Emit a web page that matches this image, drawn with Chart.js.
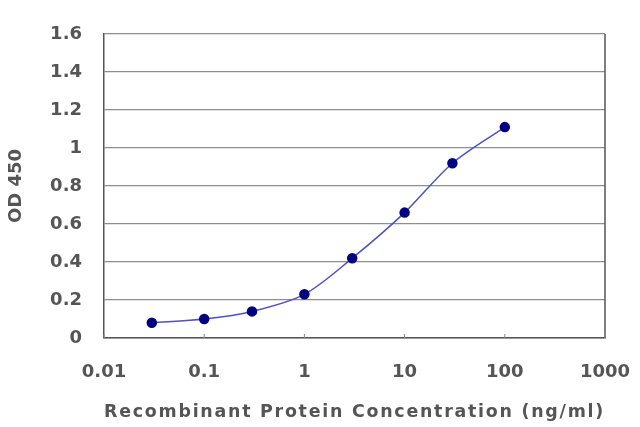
<!DOCTYPE html>
<html>
<head>
<meta charset="utf-8">
<script src="https://cdn.jsdelivr.net/npm/chart.js@4"></script>
<style>
html,body{margin:0;padding:0;background:#fff;}
#wrap{width:640px;height:427px;}
</style>
</head>
<body>
<div id="wrap"><canvas id="c" width="640" height="427"></canvas></div>
<script>
const concentrations = [0.03, 0.1, 0.3, 1, 3, 10, 30, 100];
const odValues = [0.08, 0.10, 0.14, 0.23, 0.42, 0.66, 0.92, 1.11];
const xTicks = [0.01, 0.1, 1, 10, 100, 1000];
const xTickLabels = ["0.01", "0.1", "1", "10", "100", "1000"];
const yTicks = [0, 0.2, 0.4, 0.6, 0.8, 1, 1.2, 1.4, 1.6];
const yTickLabels = ["0", "0.2", "0.4", "0.6", "0.8", "1", "1.2", "1.4", "1.6"];
const xTitle = "Recombinant Protein Concentration (ng/ml)";
const yTitle = "OD 450";

const points = concentrations.map((x, i) => ({x: x, y: odValues[i]}));
const fam = "'DejaVu Sans', 'Liberation Sans', sans-serif";
const tickFont = {family: fam, size: 18, weight: 'bold'};
const titleFont = {family: fam, size: 18, weight: 'bold'};
const textColor = '#555555';

new Chart(document.getElementById('c'), {
  type: 'line',
  data: {
    datasets: [{
      data: points,
      borderColor: '#5050c0',
      borderWidth: 1.5,
      backgroundColor: '#000080',
      pointBackgroundColor: '#000080',
      pointBorderColor: '#000080',
      pointRadius: 4.5,
      pointStyle: 'circle',
      tension: 0.3,
      fill: false
    }]
  },
  options: {
    responsive: false,
    animation: false,
    devicePixelRatio: 1,
    layout: {padding: {top: 34, right: 35, left: 0, bottom: 0}},
    plugins: {legend: {display: false}, tooltip: {enabled: false}},
    scales: {
      x: {
        type: 'logarithmic',
        min: 0.01,
        max: 1000,
        afterBuildTicks: (s) => { s.ticks = xTicks.map(v => ({value: v})); },
        afterFit: (s) => { s.height = 89; s.paddingLeft = 0; s.paddingRight = 0; },
        ticks: {
          font: tickFont, color: textColor, padding: 24, maxRotation: 0, autoSkip: false,
          callback: (v) => { const i = xTicks.indexOf(v); return i >= 0 ? xTickLabels[i] : ''; }
        },
        grid: {display: false, drawTicks: false},
        border: {display: true, color: '#555', width: 1.5},
        title: {display: true, text: xTitle, font: titleFont, color: textColor, padding: {top: 10, bottom: 4}}
      },
      y: {
        min: 0,
        max: 1.6,
        afterBuildTicks: (s) => { s.ticks = yTicks.map(v => ({value: v})); },
        afterFit: (s) => { s.width = 104; s.paddingTop = 0; s.paddingBottom = 0; },
        ticks: {
          font: tickFont, color: textColor, padding: 22,
          callback: (v) => { const i = yTicks.indexOf(v); return i >= 0 ? yTickLabels[i] : ''; }
        },
        grid: {color: '#8e8e8e', lineWidth: 1.2, drawTicks: false},
        border: {display: true, color: '#555', width: 1.5},
        title: {display: true, text: yTitle, font: titleFont, color: textColor, padding: {top: 6, bottom: 0}}
      }
    }
  },
  plugins: [{
    id: 'spacing',
    beforeDraw(chart) {
      const sx = chart.scales.x;
      if (sx && !sx._spaced) {
        const orig = sx.drawTitle;
        sx.drawTitle = function() {
          const ctx = this.ctx;
          ctx.save();
          ctx.letterSpacing = '1.8px';
          orig.apply(this, arguments);
          ctx.restore();
        };
        sx._spaced = true;
      }
    }
  }, {
    id: 'frame',
    afterDraw(chart) {
      const {ctx, chartArea: a, scales} = chart;
      ctx.save();
      ctx.strokeStyle = '#555';
      ctx.lineWidth = 1.5;
      ctx.beginPath();
      ctx.moveTo(a.right, a.top);
      ctx.lineTo(a.right, a.bottom);
      ctx.stroke();
      ctx.strokeStyle = '#888';
      ctx.lineWidth = 1;
      xTicks.forEach(v => {
        const px = scales.x.getPixelForValue(v);
        ctx.beginPath();
        ctx.moveTo(px, a.bottom);
        ctx.lineTo(px, a.bottom - 4);
        ctx.stroke();
      });
      ctx.restore();
    }
  }]
});
</script>
</body>
</html>
